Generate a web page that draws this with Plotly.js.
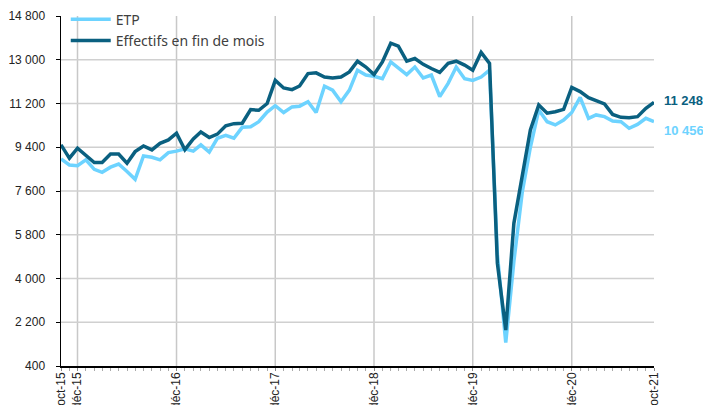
<!DOCTYPE html>
<html>
<head>
<meta charset="utf-8">
<script src="https://cdn.plot.ly/plotly-3.0.1.min.js"></script>
<style>html,body{margin:0;padding:0;background:#fff;}#chart{width:703px;height:405px;}</style>
</head>
<body>
<div id="chart"></div>
<script>
// Monthly series, oct-2015 .. oct-2021
var startYear = 2015, startMonth = 10, nMonths = 73;
var etp = [8920,8670,8640,8880,8490,8370,8580,8710,8400,8080,9040,8990,8880,9180,9240,9340,9240,9500,9200,9770,9890,9770,10220,10240,10450,10850,11110,10830,11060,11090,11270,10830,11910,11750,11270,11750,12570,12370,12320,12220,12910,12660,12390,12700,12250,12370,11480,12030,12700,12220,12150,12290,12570,5000,1360,4700,7550,9400,10930,10450,10320,10520,10830,11450,10590,10730,10660,10480,10450,10180,10340,10590,10456];
var effectifs = [9500,8950,9360,9080,8770,8770,9120,9120,8740,9220,9450,9290,9560,9700,9980,9300,9740,10030,9800,9940,10280,10370,10390,10950,10920,11200,12150,11840,11770,11920,12430,12460,12290,12250,12290,12500,12940,12700,12390,12910,13680,13560,12940,13050,12810,12640,12480,12850,12940,12780,12570,13300,12850,4630,1880,6270,8330,10110,11140,10800,10860,10960,11860,11690,11440,11300,11180,10750,10630,10610,10660,11000,11248];
var seriesNames = ['ETP', 'Effectifs en fin de mois'];
var xTickVals = ['2015-10-01','2015-12-01','2016-12-01','2017-12-01','2018-12-01','2019-12-01','2020-12-01','2021-10-01'];
var xTickText = ['oct-15','déc-15','déc-16','déc-17','déc-18','déc-19','déc-20','oct-21'];
var xGridVals = ['2015-12-01','2016-12-01','2017-12-01','2018-12-01','2019-12-01','2020-12-01'];
var yTickVals = [400,2200,4000,5800,7600,9400,11200,13000,14800];
var yGridVals = [2200,4000,5800,7600,9400,11200,13000];

var months = [];
for (var i = 0; i < nMonths; i++) {
  var m = startMonth - 1 + i;
  var y = startYear + Math.floor(m / 12);
  var mm = (m % 12) + 1;
  months.push(y + '-' + (mm < 10 ? '0' + mm : mm) + '-01');
}
function fmt(v){ return String(v).replace(/\B(?=(\d{3})+(?!\d))/g, ' '); }

var light = '#6dd3ff', dark = '#0a6080';
var traces = [
  {x: months, y: etp, name: seriesNames[0], type: 'scatter', mode: 'lines',
   line: {color: light, width: 3.5}},
  {x: months, y: effectifs, name: seriesNames[1], type: 'scatter', mode: 'lines',
   line: {color: dark, width: 3.5}}
];

var shapes = [];
xGridVals.forEach(function(d){
  shapes.push({type:'line', layer:'below', xref:'x', yref:'paper', x0:d, x1:d, y0:0, y1:1,
    line:{color:'#c8c8c8', width:1.5}});
});
yGridVals.forEach(function(v){
  shapes.push({type:'line', layer:'below', xref:'paper', yref:'y', x0:0, x1:1, y0:v, y1:v,
    line:{color:'#d0d0d0', width:1.5}});
});

var last = nMonths - 1;
var layout = {
  width: 703, height: 405,
  margin: {l: 61, r: 49, t: 16, b: 39, autoexpand: false},
  paper_bgcolor: '#fff', plot_bgcolor: '#fff',
  separators: ', ',
  showlegend: true,
  legend: {x: 0.008, y: 1.035, xanchor: 'left', yanchor: 'top', bgcolor: 'rgba(0,0,0,0)',
    font: {family: 'Noto Sans, sans-serif', size: 14, color: '#404040'}, itemwidth: 40, tracegroupgap: 0},
  xaxis: {type: 'date', range: [months[0], months[last]], tickmode: 'array',
    tickvals: xTickVals, ticktext: xTickText, tickangle: -90, showgrid: false, zeroline: false,
    showline: true, linecolor: '#000', linewidth: 1.5, ticks: 'outside', ticklen: 3, tickcolor: '#888',
    ticklabelstandoff: -3, automargin: false,
    minor: {dtick: 'M1', tick0: '2015-10-01', ticks: 'outside', ticklen: 3, tickcolor: '#aaa', showgrid: false},
    tickfont: {family: 'Liberation Sans, Arial, sans-serif', size: 12, color: '#222'}},
  yaxis: {range: [400, 14800], tickmode: 'array', tickvals: yTickVals, tickformat: ',d',
    showgrid: false, zeroline: false, showline: true, linecolor: '#000', linewidth: 1.5,
    ticks: 'outside', ticklen: 4, tickcolor: '#000', ticklabelstandoff: 8, automargin: false,
    tickfont: {family: 'Liberation Sans, Arial, sans-serif', size: 12, color: '#222'}},
  shapes: shapes,
  annotations: [
    {x: months[last], y: effectifs[last], xref: 'x', yref: 'y', text: '<b>' + fmt(effectifs[last]) + '</b>',
     showarrow: false, xanchor: 'left', xshift: 8, yshift: 2,
     font: {family: 'Liberation Sans, Arial, sans-serif', size: 13, color: dark}},
    {x: months[last], y: etp[last], xref: 'x', yref: 'y', text: '<b>' + fmt(etp[last]) + '</b>',
     showarrow: false, xanchor: 'left', xshift: 8, yshift: -9,
     font: {family: 'Liberation Sans, Arial, sans-serif', size: 13, color: light}}
  ]
};
Plotly.newPlot('chart', traces, layout, {displayModeBar: false, staticPlot: true});
</script>
</body>
</html>
